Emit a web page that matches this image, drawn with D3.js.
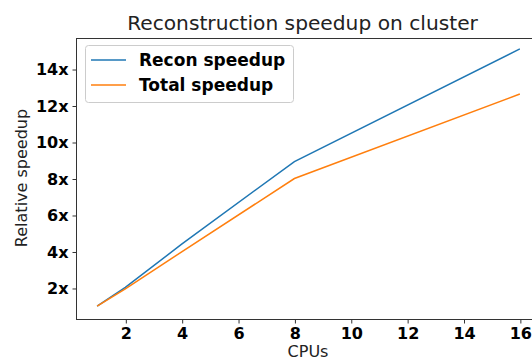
<!DOCTYPE html>
<html>
<head>
<meta charset="utf-8">
<script src="https://cdn.jsdelivr.net/npm/d3@7"></script>
<style>
  body { margin: 0; background: #fff; }
  svg { display: block; font-family: "DejaVu Sans", sans-serif; }
</style>
</head>
<body>
<div id="chart"></div>
<script>
const cpus = [1, 2, 4, 8, 16];
const reconSpeedup = [1, 2.03, 4.4, 8.93, 15.1];
const totalSpeedup = [1, 1.95, 3.98, 8.0, 12.63];
const xTicks = [2, 4, 6, 8, 10, 12, 14, 16];
const yTicks = [2, 4, 6, 8, 10, 12, 14];
const seriesNames = ["Recon speedup", "Total speedup"];
const seriesColors = ["#1f77b4", "#ff7f0e"];

const W = 532, H = 358;
const margin = { left: 76, top: 38, right: 541, bottom: 319 };

const svg = d3.select("#chart").append("svg")
  .attr("width", W).attr("height", H);

const x = d3.scaleLinear().domain([0.25, 16.75]).range([margin.left, margin.right]);
const y = d3.scaleLinear().domain([0.3, 15.7]).range([margin.bottom, margin.top]);

// frame (right spine falls outside the picture)
svg.append("rect")
  .attr("x", margin.left + 0.5).attr("y", margin.top + 0.5)
  .attr("width", margin.right - margin.left).attr("height", margin.bottom - margin.top)
  .attr("fill", "none").attr("stroke", "#333").attr("stroke-width", 1);

const xAxis = svg.append("g")
  .attr("transform", `translate(0.5,${margin.bottom + 0.5})`)
  .call(d3.axisBottom(x).tickValues(xTicks).tickSize(4).tickPadding(4).tickFormat(d3.format("d")));
xAxis.select(".domain").remove();

const yAxis = svg.append("g")
  .attr("transform", `translate(${margin.left + 0.5},0.5)`)
  .call(d3.axisLeft(y).tickValues(yTicks).tickSize(4).tickPadding(4).tickFormat(d => d + "x"));
yAxis.select(".domain").remove();

svg.selectAll(".tick line").attr("stroke", "#333");
svg.selectAll(".tick text")
  .attr("fill", "#000")
  .style("font-family", "DejaVu Sans")
  .style("font-size", "16px")
  .style("font-weight", "bold");

const line = d3.line().x(d => x(d[0])).y(d => y(d[1]));
[reconSpeedup, totalSpeedup].forEach((vals, i) => {
  svg.append("path")
    .datum(cpus.map((c, j) => [c, vals[j]]))
    .attr("fill", "none")
    .attr("stroke", seriesColors[i])
    .attr("stroke-width", 1.5)
    .attr("d", line);
});

// title
svg.append("text")
  .attr("x", 302.5).attr("y", 29.5)
  .attr("text-anchor", "middle")
  .style("font-size", "20.2px")
  .attr("fill", "#222")
  .text("Reconstruction speedup on cluster");

// axis labels (bottom of "CPUs" is clipped in the reference too)
svg.append("text")
  .attr("x", (margin.left + margin.right) / 2 - 0.5).attr("y", 356.5)
  .attr("text-anchor", "middle")
  .style("font-size", "16px")
  .attr("fill", "#222")
  .text("CPUs");

svg.append("text")
  .attr("transform", `translate(27,${(margin.top + margin.bottom) / 2 - 0.5}) rotate(-90)`)
  .attr("text-anchor", "middle")
  .style("font-size", "16px")
  .attr("fill", "#222")
  .text("Relative speedup");

// legend
const legend = svg.append("g");
legend.append("rect")
  .attr("x", 85.5).attr("y", 45.5)
  .attr("width", 208).attr("height", 57)
  .attr("rx", 3)
  .attr("fill", "#fff").attr("fill-opacity", 0.8)
  .attr("stroke", "#ccc");

seriesNames.forEach((name, i) => {
  const ly = 60 + i * 25;
  legend.append("line")
    .attr("x1", 91).attr("x2", 126)
    .attr("y1", ly).attr("y2", ly)
    .attr("stroke", seriesColors[i]).attr("stroke-width", 1.5);
  legend.append("text")
    .attr("x", 139).attr("y", ly + 6)
    .style("font-size", "17px")
    .style("font-weight", "bold")
    .attr("fill", "#000")
    .text(name);
});
</script>
</body>
</html>
